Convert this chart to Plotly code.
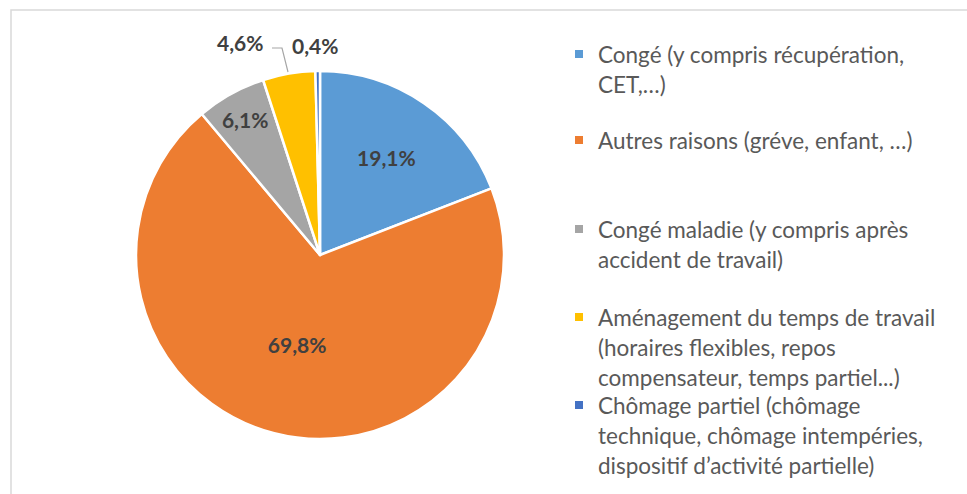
import plotly.graph_objects as go

# ---- data ----
categories = [
    "Congé (y compris récupération, CET,…)",
    "Autres raisons (gréve, enfant, …)",
    "Congé maladie (y compris après accident de travail)",
    "Aménagement du temps de travail (horaires flexibles, repos compensateur, temps partiel...)",
    "Chômage partiel (chômage technique, chômage intempéries, dispositif d’activité partielle)",
]
values = [19.1, 69.8, 6.1, 4.6, 0.4]
colors = ["#5B9BD5", "#ED7D31", "#A5A5A5", "#FFC000", "#4472C4"]
legend_lines = [
    ["Congé (y compris récupération,", "CET,…)"],
    ["Autres raisons (gréve, enfant, …)"],
    ["Congé maladie (y compris après", "accident de travail)"],
    ["Aménagement du temps de travail", "(horaires flexibles, repos", "compensateur, temps partiel...)"],
    ["Chômage partiel (chômage", "technique, chômage intempéries,", "dispositif d’activité partielle)"],
]

W, H = 967, 494
FONT = "Lato"
LABEL_COLOR = "#404040"
TEXT_COLOR = "#595959"


def px(x):
    return x / W


def py(y):
    return 1 - y / H


def fmt(v):
    return f"{v:.1f}".replace(".", ",") + "%"


cx, cy, r = 320, 255, 184

fig = go.Figure()
fig.add_trace(go.Pie(
    labels=categories,
    values=values,
    sort=False,
    direction="clockwise",
    rotation=0,
    marker=dict(colors=colors, line=dict(color="white", width=2.5)),
    texttemplate="%{value:.1f}%",
    textposition=["inside", "inside", "inside", "none", "none"],
    insidetextorientation="horizontal",
    insidetextfont=dict(family=FONT, size=21, color=LABEL_COLOR, weight="bold"),
    domain=dict(x=[px(cx - r), px(cx + r)], y=[py(cy + r), py(cy - r)]),
    showlegend=False,
    hoverinfo="label+percent",
))

annotations = []
shapes = []

# outside labels for the small slices
annotations.append(dict(x=px(240), y=py(43), xref="paper", yref="paper", text=f"<b>{fmt(values[3])}</b>",
                        showarrow=False, xanchor="center", yanchor="middle",
                        font=dict(family=FONT, size=21, color=LABEL_COLOR)))
annotations.append(dict(x=px(315), y=py(46), xref="paper", yref="paper", text=f"<b>{fmt(values[4])}</b>",
                        showarrow=False, xanchor="center", yanchor="middle",
                        font=dict(family=FONT, size=21, color=LABEL_COLOR)))
shapes.append(dict(type="path", xref="paper", yref="paper",
                   path=f"M {px(272)} {py(48)} L {px(282)} {py(48)} L {px(288)} {py(72)}",
                   line=dict(color="#A6A6A6", width=1.2)))

# legend (manual, to reproduce spacing)
item_tops = [54, 140, 229, 317, 405]
line_gap = 30
for i, lines in enumerate(legend_lines):
    y0 = item_tops[i]
    shapes.append(dict(type="rect", xref="paper", yref="paper",
                       x0=px(575), x1=px(583), y0=py(y0 - 4), y1=py(y0 + 4),
                       fillcolor=colors[i], line=dict(width=0)))
    for j, t in enumerate(lines):
        annotations.append(dict(x=px(596), y=py(y0 + j * line_gap), xref="paper", yref="paper",
                                text=t, showarrow=False, xanchor="left", yanchor="middle",
                                font=dict(family=FONT, size=22.5, color=TEXT_COLOR)))

# chart border (only top and left edges visible)
shapes.append(dict(type="rect", xref="paper", yref="paper",
                   x0=px(11), x1=px(W + 5), y0=py(H + 5), y1=py(10),
                   line=dict(color="#D9D9D9", width=1.5), fillcolor="rgba(0,0,0,0)"))

# cut-off heading above the chart
annotations.append(dict(x=px(90), y=py(7), xref="paper", yref="paper", text="<b>en 2022</b>",
                        showarrow=False, xanchor="right", yanchor="bottom",
                        font=dict(family="Liberation Serif", size=22, color="#000000")))

fig.update_layout(
    width=W, height=H,
    margin=dict(l=0, r=0, t=0, b=0),
    paper_bgcolor="white",
    plot_bgcolor="white",
    separators=", ",
    annotations=annotations,
    shapes=shapes,
)

fig.write_html("out.html", config={"displayModeBar": False},
               post_script="document.body.style.margin='0';")
